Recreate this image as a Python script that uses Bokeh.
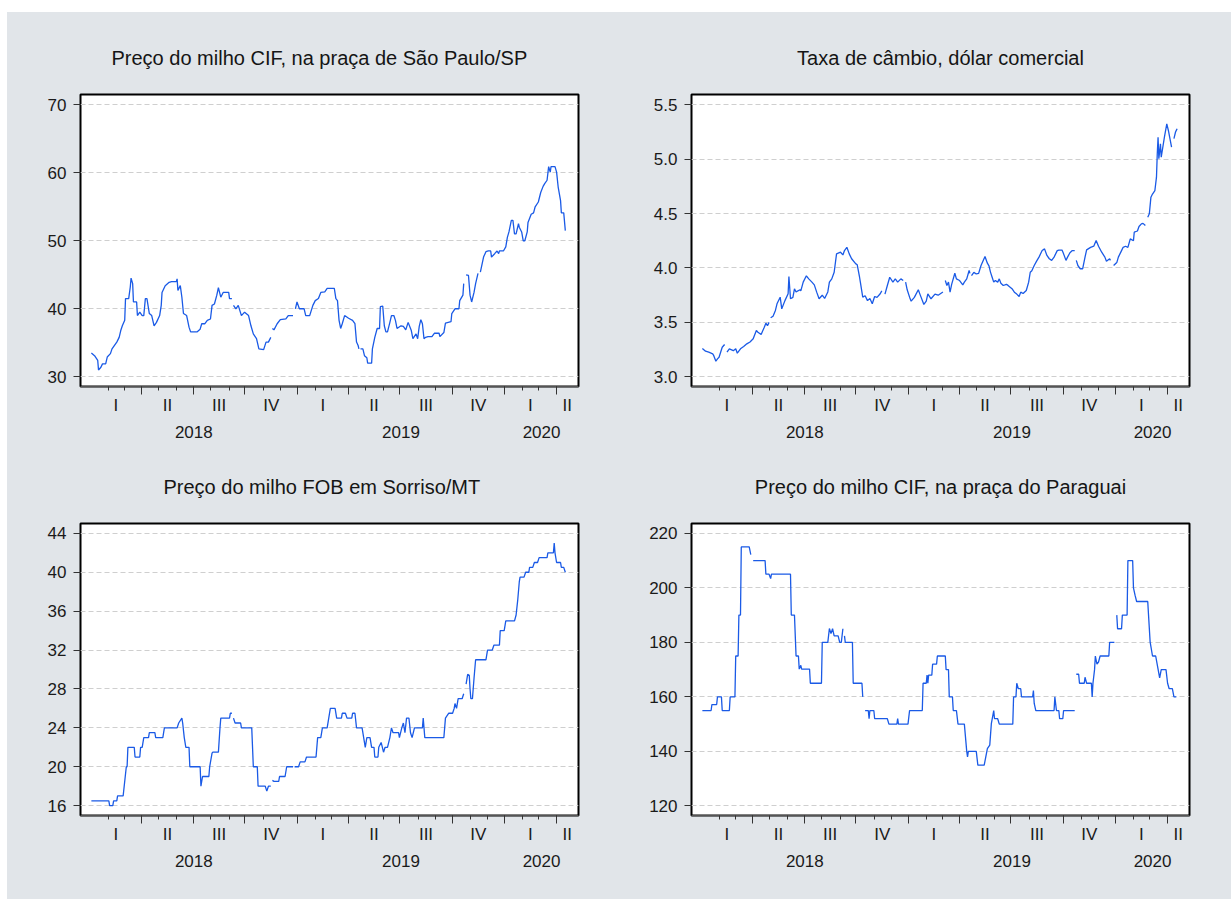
import numpy as np
from bokeh.plotting import figure
from bokeh.models import (Range1d, FixedTicker, LinearAxis, Grid, CustomJSTickFormatter,
                          PrintfTickFormatter, Spacer)
from bokeh.layouts import row, column
from bokeh.embed import file_html
from bokeh.resources import INLINE

# ---------------- data (daily, 5-day business calendar; None = missing) ----------------
sp_dates = ["2018-01-02","2018-01-08","2018-01-12","2018-01-15","2018-01-18","2018-01-22","2018-01-26","2018-01-30",
"2018-02-05","2018-02-07","2018-02-15","2018-02-20","2018-02-22","2018-02-26","2018-03-01","2018-03-02","2018-03-08",
"2018-03-12","2018-03-13","2018-03-15","2018-03-16","2018-03-22","2018-03-23","2018-03-28","2018-04-02","2018-04-04",
"2018-04-06","2018-04-10","2018-04-13","2018-04-18","2018-04-23","2018-04-26","2018-05-02","2018-05-04","2018-05-07",
"2018-05-11","2018-05-18","2018-05-23","2018-05-31","2018-06-01","2018-06-04","2018-06-07","2018-06-11","2018-06-13",
"2018-06-19","2018-06-22","2018-06-26","2018-07-06","2018-07-12","2018-07-16","2018-07-20","2018-07-25","2018-07-31",
"2018-08-02","2018-08-07","2018-08-10","2018-08-14","2018-08-17","2018-08-22","2018-08-31","2018-09-03","2018-09-06",
"2018-09-07","2018-09-10","2018-09-13","2018-09-18","2018-09-24","2018-09-28","2018-10-05","2018-10-10","2018-10-15",
"2018-10-19","2018-10-24","2018-11-01","2018-11-06","2018-11-09","2018-11-14","2018-11-15","2018-11-16","2018-11-20",
"2018-11-26","2018-11-30","2018-12-11","2018-12-14","2018-12-24","2018-12-25","2018-12-27","2018-12-31","2019-01-03",
"2019-01-11","2019-01-15","2019-01-22","2019-01-28","2019-01-31","2019-02-06","2019-02-11","2019-02-18","2019-02-21",
"2019-03-06","2019-03-08","2019-03-12","2019-03-14","2019-03-18","2019-03-20","2019-03-25","2019-04-01","2019-04-08",
"2019-04-11","2019-04-15","2019-04-17","2019-04-18","2019-04-19","2019-04-22","2019-04-25","2019-04-29","2019-05-02",
"2019-05-03","2019-05-10","2019-05-13","2019-05-16","2019-05-21","2019-05-24","2019-05-27","2019-05-30","2019-06-03",
"2019-06-05","2019-06-07","2019-06-12","2019-06-14","2019-06-19","2019-06-21","2019-06-25","2019-07-02","2019-07-05",
"2019-07-10","2019-07-15","2019-07-19","2019-07-23","2019-07-29","2019-07-31","2019-08-02","2019-08-06","2019-08-08",
"2019-08-12","2019-08-14","2019-08-19","2019-08-26","2019-08-29","2019-09-06","2019-09-09","2019-09-16","2019-09-18",
"2019-09-27","2019-09-30","2019-10-04","2019-10-11","2019-10-14","2019-10-18","2019-10-21","2019-10-22","2019-10-24",
"2019-10-29","2019-10-31","2019-11-04","2019-11-07","2019-11-11","2019-11-14","2019-11-15","2019-11-19","2019-11-25",
"2019-11-28","2019-12-03","2019-12-06","2019-12-09","2019-12-13","2019-12-18","2019-12-20","2019-12-23","2019-12-30",
"2020-01-02","2020-01-06","2020-01-08","2020-01-13","2020-01-15","2020-01-17","2020-01-21","2020-01-24","2020-01-27",
"2020-01-30","2020-02-03","2020-02-05","2020-02-10","2020-02-11","2020-02-17","2020-02-20","2020-02-24","2020-02-28",
"2020-03-04","2020-03-09","2020-03-11","2020-03-16","2020-03-18","2020-03-20","2020-03-23","2020-03-30","2020-04-01",
"2020-04-03","2020-04-08","2020-04-09","2020-04-14","2020-04-16"]
sp_values = [33.5,33.1,32.4,31.0,31.4,31.9,31.9,32.9,
33.4,34.1,35.1,35.8,36.8,37.5,38.3,41.5,41.5,
43.2,44.5,43.7,41.0,41.0,39.0,39.5,39.0,39.0,
41.5,41.5,39.3,39.0,37.5,38.0,39.0,40.5,42.4,
43.4,43.9,44.0,44.0,44.4,42.7,43.4,41.7,39.3,
39.0,37.3,36.6,36.6,37.0,37.8,37.8,38.3,38.5,
40.5,40.7,42.0,43.1,41.7,42.4,42.4,41.5,41.5,
None,40.5,40.0,40.5,39.0,39.5,39.0,37.5,36.3,
35.6,34.1,34.0,35.1,35.1,35.8,None,37.1,36.9,
37.8,38.4,38.5,39.0,39.0,None,40.0,41.0,40.0,
40.0,39.0,39.0,40.5,41.2,41.5,42.4,42.5,43.0,
43.0,41.5,41.2,38.3,37.1,37.8,39.0,38.6,38.3,
37.8,35.1,34.6,34.1,None,34.1,34.1,33.1,32.8,
32.0,32.0,34.1,35.8,37.1,37.1,40.3,40.4,37.5,
36.6,36.6,38.0,39.0,39.0,38.3,37.1,37.5,37.4,
36.9,38.0,36.8,35.6,36.3,35.6,37.4,38.4,37.8,
35.6,35.8,35.9,35.9,36.4,36.4,35.9,36.5,37.9,
38.1,39.3,40.0,40.0,41.2,42.0,43.7,None,45.0,
44.9,42.0,41.0,42.4,43.7,45.2,None,45.4,47.6,
48.4,48.5,48.5,47.6,48.1,48.5,48.1,48.5,48.5,
49.1,50.5,51.3,53.0,53.0,51.0,51.0,52.5,52.0,
51.3,50.0,50.0,51.3,52.7,53.9,54.1,55.0,55.7,
57.1,58.0,58.4,58.9,60.9,60.1,60.9,60.9,60.1,
57.9,55.9,54.1,54.1,51.5]

fx_dates = ["2018-01-02","2018-01-08","2018-01-12","2018-01-19","2018-01-22","2018-01-25","2018-01-29","2018-01-31",
"2018-02-02","2018-02-06","2018-02-09","2018-02-12","2018-02-13","2018-02-14","2018-02-19","2018-02-26","2018-03-01",
"2018-03-05","2018-03-09","2018-03-15","2018-03-21","2018-03-27","2018-04-02","2018-04-06","2018-04-10","2018-04-16",
"2018-04-20","2018-04-24","2018-04-26","2018-04-30","2018-05-01","2018-05-02","2018-05-07","2018-05-10","2018-05-14",
"2018-05-18","2018-05-22","2018-05-28","2018-06-01","2018-06-04","2018-06-06","2018-06-11","2018-06-13","2018-06-15",
"2018-06-22","2018-06-25","2018-06-28","2018-07-04","2018-07-09","2018-07-13","2018-07-18","2018-07-23","2018-07-26",
"2018-08-01","2018-08-06","2018-08-10","2018-08-14","2018-08-17","2018-08-22","2018-08-27","2018-09-03","2018-09-06",
"2018-09-10","2018-09-13","2018-09-18","2018-09-21","2018-09-28","2018-10-02","2018-10-05","2018-10-08","2018-10-11",
"2018-10-16","2018-10-19","2018-10-24","2018-10-29","2018-11-01","2018-11-06","2018-11-12","2018-11-14","2018-11-15",
"2018-11-20","2018-11-23","2018-11-28","2018-12-04","2018-12-07","2018-12-12","2018-12-18","2018-12-21","2018-12-25",
"2018-12-26","2018-12-28","2019-01-02","2019-01-04","2019-01-10","2019-01-17","2019-01-21","2019-01-28","2019-01-31",
"2019-02-04","2019-02-08","2019-02-15","2019-02-21","2019-03-01","2019-03-04","2019-03-05","2019-03-06","2019-03-08",
"2019-03-12","2019-03-14","2019-03-18","2019-03-22","2019-03-26","2019-04-01","2019-04-05","2019-04-09","2019-04-12",
"2019-04-17","2019-04-18","2019-04-19","2019-04-22","2019-04-25","2019-04-30","2019-05-03","2019-05-08","2019-05-15",
"2019-05-20","2019-05-22","2019-05-24","2019-05-28","2019-05-30","2019-06-03","2019-06-06","2019-06-10","2019-06-12",
"2019-06-17","2019-06-21","2019-06-25","2019-07-02","2019-07-05","2019-07-10","2019-07-15","2019-07-17","2019-07-22",
"2019-07-26","2019-07-31","2019-08-02","2019-08-06","2019-08-09","2019-08-14","2019-08-19","2019-08-23","2019-08-28",
"2019-09-02","2019-09-05","2019-09-10","2019-09-13","2019-09-19","2019-09-23","2019-09-27","2019-10-01","2019-10-04",
"2019-10-08","2019-10-11","2019-10-16","2019-10-21","2019-10-22","2019-10-23","2019-10-25","2019-10-30","2019-11-04",
"2019-11-07","2019-11-11","2019-11-18","2019-11-22","2019-11-27","2019-12-02","2019-12-06","2019-12-12","2019-12-16",
"2019-12-20","2019-12-23","2019-12-25","2019-12-27","2020-01-02","2020-01-06","2020-01-10","2020-01-14","2020-01-17",
"2020-01-22","2020-01-27","2020-01-31","2020-02-03","2020-02-07","2020-02-11","2020-02-14","2020-02-18","2020-02-21",
"2020-02-24","2020-02-25","2020-02-26","2020-02-28","2020-03-03","2020-03-05","2020-03-10","2020-03-12","2020-03-13",
"2020-03-16","2020-03-17","2020-03-19","2020-03-20","2020-03-26","2020-03-31","2020-04-02","2020-04-08","2020-04-10",
"2020-04-13","2020-04-15","2020-04-16","2020-04-17"]
fx_values = [3.26,3.235,3.226,3.211,3.20,3.143,3.165,3.18,
3.226,3.272,3.297,None,None,3.226,3.257,3.24,3.257,
3.217,3.257,3.278,3.303,3.32,3.349,3.426,3.41,3.389,
3.456,3.493,3.47,3.50,None,3.542,3.557,3.61,3.671,
3.732,3.625,3.70,3.763,3.922,3.717,3.73,3.809,3.78,
3.80,3.79,3.87,3.928,3.90,3.87,3.845,3.778,3.717,
3.75,3.72,3.78,3.87,3.90,3.961,4.13,4.145,4.12,
4.16,4.19,4.13,4.085,4.04,4.03,3.915,3.87,3.732,
3.745,3.70,3.72,3.671,3.738,3.73,3.763,3.79,None,
3.76,3.839,3.915,3.87,3.90,3.87,3.90,3.885,None,
3.87,3.80,3.732,3.695,3.73,3.80,3.76,3.665,3.695,
3.763,3.717,3.76,3.75,3.78,None,None,3.885,3.839,
3.87,3.778,3.85,3.952,3.90,3.885,3.845,3.87,3.90,
3.977,3.95,None,3.93,3.96,3.945,3.95,4.023,4.106,
4.044,4.02,3.96,3.915,3.87,3.885,3.87,3.90,3.86,
3.839,3.85,3.84,3.81,3.778,3.76,3.738,3.778,3.765,
3.793,3.87,3.961,3.975,4.023,4.063,4.10,4.161,4.176,
4.115,4.085,4.07,4.10,4.16,4.165,4.165,4.13,4.07,
4.10,4.14,4.16,4.16,None,4.07,4.023,3.993,3.993,
4.10,4.167,4.19,4.20,4.253,4.20,4.145,4.10,4.063,
4.085,4.07,None,4.023,4.05,4.10,4.16,4.19,4.20,
4.19,4.268,4.25,4.329,4.34,4.382,4.406,4.41,4.39,
None,None,4.467,4.498,4.651,4.68,4.712,4.835,5.05,
5.202,5.004,5.141,5.018,5.202,5.325,5.264,5.11,None,
5.19,5.25,5.265,5.28]

mt_dates = ["2018-01-02","2018-02-01","2018-02-02","2018-02-08","2018-02-09","2018-02-15","2018-02-16","2018-02-27",
"2018-03-05","2018-03-06","2018-03-07","2018-03-19","2018-03-20","2018-03-28","2018-03-29","2018-04-02","2018-04-04",
"2018-04-12","2018-04-13","2018-04-24","2018-04-25","2018-05-08","2018-05-09","2018-05-10","2018-06-01","2018-06-05",
"2018-06-11","2018-06-12","2018-06-14","2018-06-18","2018-06-22","2018-06-25","2018-07-12","2018-07-13","2018-07-17",
"2018-07-27","2018-07-30","2018-08-02","2018-08-03","2018-08-14","2018-08-16","2018-08-17","2018-09-03","2018-09-04",
"2018-09-06","2018-09-07","2018-09-10","2018-09-12","2018-09-21","2018-09-24","2018-10-11","2018-10-15","2018-10-22",
"2018-10-23","2018-11-05","2018-11-07","2018-11-09","2018-11-14","2018-11-15","2018-11-16","2018-11-20","2018-11-28",
"2018-11-29","2018-12-10","2018-12-12","2018-12-24","2018-12-25","2018-12-26","2019-01-02","2019-01-04","2019-01-14",
"2019-01-16","2019-02-01","2019-02-05","2019-02-11","2019-02-13","2019-02-21","2019-02-25","2019-02-27","2019-03-07",
"2019-03-11","2019-03-19","2019-03-20","2019-03-26","2019-03-28","2019-04-05","2019-04-08","2019-04-11","2019-04-15",
"2019-04-24","2019-04-26","2019-04-30","2019-05-02","2019-05-08","2019-05-10","2019-05-15","2019-05-16","2019-05-22",
"2019-05-23","2019-05-28","2019-05-31","2019-06-04","2019-06-07","2019-06-12","2019-06-14","2019-06-18","2019-06-27",
"2019-06-28","2019-07-03","2019-07-05","2019-07-09","2019-07-11","2019-07-16","2019-07-18","2019-07-22","2019-07-25",
"2019-08-08","2019-08-09","2019-08-13","2019-09-16","2019-09-18","2019-09-24","2019-10-01","2019-10-03","2019-10-04",
"2019-10-08","2019-10-10","2019-10-17","2019-10-21","2019-10-22","2019-10-24","2019-10-28","2019-10-30","2019-10-31",
"2019-11-01","2019-11-05","2019-11-07","2019-11-11","2019-11-28","2019-12-02","2019-12-10","2019-12-12","2019-12-23",
"2019-12-24","2019-12-31","2020-01-02","2020-01-17","2020-01-21","2020-01-23","2020-01-27","2020-01-28","2020-02-04",
"2020-02-06","2020-02-12","2020-02-13","2020-02-19","2020-02-21","2020-02-27","2020-03-02","2020-03-16","2020-03-17",
"2020-03-26","2020-03-27","2020-03-30","2020-04-01","2020-04-08","2020-04-09","2020-04-14","2020-04-16"]
mt_values = [16.5,16.5,16.0,16.0,16.5,16.5,17.0,17.0,
20.0,20.0,22.0,22.0,21.0,21.0,22.0,22.0,23.0,
23.0,23.5,23.5,23.0,23.0,23.5,24.0,24.0,24.5,
25.0,24.5,23.0,22.0,22.0,20.0,20.0,18.0,19.0,
19.0,20.0,21.4,21.5,21.5,24.0,25.0,25.0,25.5,
25.5,None,25.0,24.5,24.5,24.0,24.0,20.0,20.0,
18.0,18.0,17.5,18.0,18.0,None,18.6,18.5,18.5,
19.0,19.0,20.0,20.0,None,20.0,20.0,20.5,20.5,
21.0,21.0,23.0,23.0,24.0,24.0,25.0,26.0,26.0,
25.0,25.0,25.5,25.5,25.0,25.0,25.5,25.5,24.0,
24.0,23.0,22.0,23.0,23.0,22.0,22.0,21.0,21.0,
22.0,22.5,21.5,22.0,22.0,23.0,24.0,23.5,23.5,
23.0,24.0,24.5,23.5,25.0,25.0,23.5,23.0,24.0,
24.0,25.0,23.0,23.0,25.0,25.5,25.5,26.0,26.5,
26.0,27.0,27.0,27.5,None,28.5,29.5,29.4,28.0,
27.0,27.0,29.1,31.0,31.0,32.0,32.0,32.5,32.5,
34.0,34.0,35.0,35.0,35.6,37.1,39.0,39.5,39.5,
40.0,40.0,40.5,40.5,41.0,41.0,41.5,41.5,42.0,
42.0,43.0,42.0,41.0,41.0,40.5,40.5,40.0]

py_dates = ["2018-01-02","2018-01-17","2018-01-18","2018-01-26","2018-01-29","2018-02-05","2018-02-06","2018-02-19",
"2018-02-20","2018-02-28","2018-03-01","2018-03-06","2018-03-07","2018-03-09","2018-03-12","2018-03-26","2018-03-28",
"2018-03-30","2018-04-02","2018-04-23","2018-04-24","2018-04-30","2018-05-02","2018-05-03","2018-06-06","2018-06-07",
"2018-06-13","2018-06-15","2018-06-20","2018-06-21","2018-06-25","2018-06-26","2018-07-10","2018-07-11","2018-07-31",
"2018-08-01","2018-08-10","2018-08-14","2018-08-16","2018-08-20","2018-08-22","2018-08-29","2018-08-31","2018-09-04",
"2018-09-06","2018-09-07","2018-09-10","2018-09-11","2018-09-24","2018-09-25","2018-10-10","2018-10-11","2018-10-12",
"2018-10-15","2018-10-16","2018-10-22","2018-10-23","2018-10-24","2018-10-31","2018-11-01","2018-11-23","2018-11-27",
"2018-12-11","2018-12-12","2018-12-13","2018-12-31","2019-01-02","2019-01-24","2019-01-25","2019-01-31","2019-02-01",
"2019-02-04","2019-02-05","2019-02-11","2019-02-12","2019-02-19","2019-02-20","2019-03-06","2019-03-07","2019-03-12",
"2019-03-13","2019-03-19","2019-03-20","2019-03-26","2019-03-28","2019-04-09","2019-04-12","2019-04-15","2019-04-16",
"2019-04-30","2019-05-02","2019-05-14","2019-05-16","2019-05-20","2019-05-23","2019-05-27","2019-05-30","2019-05-31",
"2019-06-06","2019-06-10","2019-07-03","2019-07-04","2019-07-09","2019-07-10","2019-07-12","2019-07-17","2019-07-18",
"2019-08-07","2019-08-08","2019-08-09","2019-08-13","2019-09-13","2019-09-16","2019-09-18","2019-09-23","2019-09-24",
"2019-09-30","2019-10-01","2019-10-21","2019-10-22","2019-10-23","2019-10-28","2019-10-29","2019-11-06","2019-11-07",
"2019-11-11","2019-11-19","2019-11-20","2019-11-21","2019-11-25","2019-11-26","2019-11-28","2019-12-02","2019-12-04",
"2019-12-19","2019-12-20","2019-12-30","2020-01-01","2020-01-02","2020-01-03","2020-01-10","2020-01-13","2020-01-21",
"2020-01-22","2020-01-30","2020-01-31","2020-02-04","2020-02-06","2020-02-26","2020-02-27","2020-03-02","2020-03-05",
"2020-03-11","2020-03-16","2020-03-18","2020-03-20","2020-03-30","2020-04-01","2020-04-03","2020-04-09","2020-04-13",
"2020-04-16"]
py_values = [155,155,157.2,157.2,160,160,155,155,
160,160,175,175,190,190,215,215,212.2,
None,210,210,205,205,203.4,205,205,190,
190,175,175,170.2,171.6,170.2,170.2,165,165,
180,180,185.1,183.2,185,182.4,182.4,180,180,
185,None,182.4,180,180,165,165,160,None,
None,155,155,152,155,155,152,152,150,
150,152,150,150,155,155,165,165,168,
165,168,168,172,172,175,175,170,170,
160,160,155,155,150,150,140,138,140,
140,135,135,138,141,142.3,150.2,155,152,
152,150,150,160,160,165,163,163,160,
160,162.3,157.6,155,155,160,155,155,152,
152,155,155,None,168.3,168.3,165,165,167.2,
165,165,160,165,170,175,172,172.8,175,
175,180,180,None,190,185,185,190,190,
210,210,200,197.3,195,195,190,180.2,175,
175,170.2,167,170,170,165,163,163,160,
160]

# axis labels
quarter_names = ["I", "II", "III", "IV", "I", "II", "III", "IV", "I", "II"]
year_names = ["2018", "2019", "2020"]
titles = ["Preço do milho CIF, na praça de São Paulo/SP", "Taxa de câmbio, dólar comercial",
          "Preço do milho FOB em Sorriso/MT", "Preço do milho CIF, na praça do Paraguai"]
sp_ticks = [30, 40, 50, 60, 70]
fx_ticks = [3.0, 3.5, 4.0, 4.5, 5.0, 5.5]
mt_ticks = [16, 20, 24, 28, 32, 36, 40, 44]
py_ticks = [120, 140, 160, 180, 200, 220]

# ---------------- helpers ----------------
START = np.datetime64("2018-01-01")


def bidx(dates):
    return np.busday_count(START, np.array(dates, dtype="datetime64[D]")).astype(float)


def yarr(vals):
    return np.array([np.nan if v is None else v for v in vals], dtype=float)


X_START, X_END = -12.7, 614.6
month_starts = np.arange(np.datetime64("2018-02"), np.datetime64("2020-05"), np.timedelta64(1, "M"))
month_ticks = list(bidx(month_starts.astype("datetime64[D]")) - 0.5)
q_starts = np.arange(np.datetime64("2018-01"), np.datetime64("2020-10"), np.timedelta64(3, "M")).astype("datetime64[D]")
q_bounds = bidx(q_starts) - 0.5
quarter_ticks = list(q_bounds[1:-1])
q_lo = np.clip(q_bounds[:-1], -0.5, X_END)
q_hi = np.clip(q_bounds[1:], -0.5, X_END)
q_centers = list((q_lo + q_hi) / 2)
y_starts = np.array(["2018-01-01", "2019-01-01", "2020-01-01", "2021-01-01"], dtype="datetime64[D]")
y_bounds = np.clip(bidx(y_starts) - 0.5, -0.5, X_END)
y_centers = list((y_bounds[:-1] + y_bounds[1:]) / 2)

FONT = "Liberation Sans"
BG = "#E1E5E9"
LINE = "#1A5AE6"
LOOKUP = """
let i = 0; let best = 1e12;
for (let k = 0; k < pos.length; k++) { const d = Math.abs(pos[k] - tick); if (d < best) { best = d; i = k; } }
return labels[i];
"""


def make_panel(title, dates, vals, yticks, ylo, yhi, fmt, w, h, bl, br, bt, bb, talign, toffset):
    p = figure(width=w, height=h, frame_width=498, frame_height=292,
               min_border_left=bl, min_border_right=br, min_border_top=bt, min_border_bottom=bb,
               x_range=Range1d(X_START, X_END), y_range=Range1d(ylo, yhi),
               x_axis_location=None, y_axis_location=None,
               output_backend="svg", toolbar_location=None)
    p.center = [r for r in p.center if not isinstance(r, Grid)]
    p.border_fill_color = BG
    p.background_fill_color = "white"
    p.outline_line_color = "black"
    p.outline_line_width = 2
    p.title.text = title
    p.title.align = talign
    p.title.offset = toffset
    p.title.text_font = FONT
    p.title.text_font_size = "20px"
    p.title.text_font_style = "normal"
    p.title.text_color = "#151515"
    p.title.standoff = 52

    grid = Grid(dimension=1, ticker=FixedTicker(ticks=yticks), grid_line_color="#CFCFCF",
                grid_line_dash="5 3", grid_line_width=1)
    p.add_layout(grid)

    yax = LinearAxis(ticker=FixedTicker(ticks=yticks), formatter=PrintfTickFormatter(format=fmt),
                     axis_line_color=None, major_tick_out=7, major_tick_in=0,
                     minor_tick_out=0, minor_tick_in=0, major_tick_line_color="#333333",
                     major_label_standoff=7, major_label_text_font=FONT,
                     major_label_text_font_size="17px", major_label_text_color="#1a1a1a")
    p.add_layout(yax, "left")

    ax_ticks = LinearAxis(ticker=FixedTicker(ticks=quarter_ticks, minor_ticks=month_ticks),
                          formatter=CustomJSTickFormatter(code="return ''"),
                          axis_line_color="#555555", axis_line_width=1, major_tick_out=8, major_tick_in=0,
                          minor_tick_out=4, minor_tick_in=0,
                          major_tick_line_color="#333333", minor_tick_line_color="#333333",
                          major_label_standoff=0, major_label_text_font_size="1px")
    p.add_layout(ax_ticks, "below")

    ax_q = LinearAxis(ticker=FixedTicker(ticks=q_centers),
                      formatter=CustomJSTickFormatter(args=dict(pos=q_centers, labels=quarter_names), code=LOOKUP),
                      axis_line_color=None, major_tick_out=0, major_tick_in=0,
                      minor_tick_out=0, minor_tick_in=0, major_label_standoff=1,
                      major_label_text_font=FONT, major_label_text_font_size="17px",
                      major_label_text_color="#1a1a1a")
    p.add_layout(ax_q, "below")

    ax_y = LinearAxis(ticker=FixedTicker(ticks=y_centers),
                      formatter=CustomJSTickFormatter(args=dict(pos=y_centers, labels=year_names), code=LOOKUP),
                      axis_line_color=None, major_tick_out=0, major_tick_in=0,
                      minor_tick_out=0, minor_tick_in=0, major_label_standoff=8,
                      major_label_text_font=FONT, major_label_text_font_size="17px",
                      major_label_text_color="#1a1a1a")
    p.add_layout(ax_y, "below")

    p.line(bidx(dates), yarr(vals), line_color=LINE, line_width=1.3)
    return p


p1 = make_panel(titles[0], sp_dates, sp_values, sp_ticks, 28.57, 71.51, "%d", 617, 435, 73, 46, 82, 61, "left", 31)
p2 = make_panel(titles[1], fx_dates, fx_values, fx_ticks, 2.9108, 5.5947, "%.1f", 607, 435, 67, 42, 82, 61, "center", 0)
p3 = make_panel(titles[2], mt_dates, mt_values, mt_ticks, 14.99, 45.01, "%d", 617, 452, 73, 46, 76, 84, "left", 83)
p4 = make_panel(titles[3], py_dates, py_values, py_ticks, 116.5, 223.6, "%d", 607, 452, 67, 42, 76, 84, "center", 0)

grid_block = column(row(p1, p2), row(p3, p4), styles={"background-color": BG})
layout = column(Spacer(width=1231, height=12),
                row(Spacer(width=7, height=887), grid_block))

open("out.html", "w").write(file_html(layout, INLINE))
